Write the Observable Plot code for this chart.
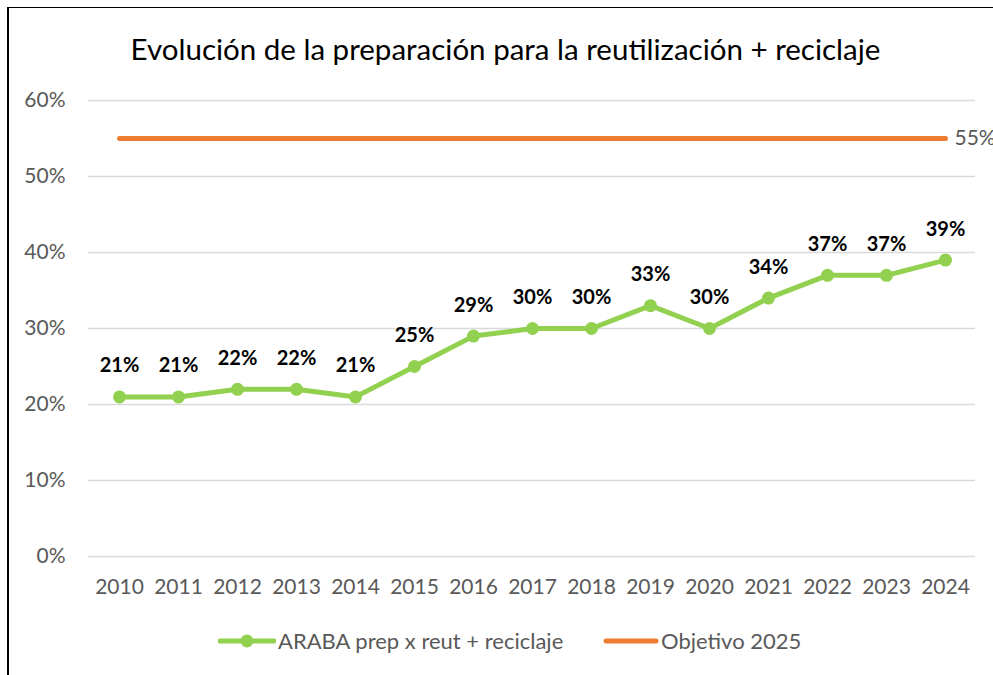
<!DOCTYPE html>
<html>
<head>
<meta charset="utf-8">
<script src="https://cdn.jsdelivr.net/npm/d3@7"></script>
<script src="https://cdn.jsdelivr.net/npm/@observablehq/plot@0.6"></script>
<style>
  html, body { margin: 0; padding: 0; background: #fff; }
  #wrap { position: relative; width: 993px; height: 675px; overflow: hidden; font-family: Lato, "Open Sans", sans-serif; }
  #border { position: absolute; left: 7px; top: 7px; width: 1000px; height: 700px; border-left: 2px solid #000; border-top: 1.5px solid #000; box-sizing: border-box; }
  #title { position: absolute; left: 0; width: 1011px; top: 31px; text-align: center; font-size: 29.5px; line-height: 36px; color: #000; white-space: nowrap; }
  .leg { position: absolute; top: 627px; font-size: 22px; color: #595959; white-space: nowrap; display: flex; align-items: center; }
  #chart { position: absolute; left: 0; top: 0; }
</style>
</head>
<body>
<div id="wrap">
  <div id="border"></div>
  <div id="title">Evolución de la preparación para la reutilización + reciclaje</div>
  <div id="chart"></div>
  <div class="leg" style="left:218px">
    <svg width="58" height="14"><line x1="2" y1="7" x2="56" y2="7" stroke="#92D050" stroke-width="5" stroke-linecap="round"/><circle cx="29" cy="7" r="6.5" fill="#92D050"/></svg>
    <span style="margin-left:2px">ARABA prep x reut + reciclaje</span>
  </div>
  <div class="leg" style="left:603px">
    <svg width="56" height="14"><line x1="3" y1="7" x2="53" y2="7" stroke="#ED7D31" stroke-width="5" stroke-linecap="round"/></svg>
    <span style="margin-left:2px">Objetivo 2025</span>
  </div>
</div>
<script>
const years = ["2010","2011","2012","2013","2014","2015","2016","2017","2018","2019","2020","2021","2022","2023","2024"];
const araba = [0.21,0.21,0.22,0.22,0.21,0.25,0.29,0.30,0.30,0.33,0.30,0.34,0.37,0.37,0.39];
const objetivo = [0.55,0.55,0.55,0.55,0.55,0.55,0.55,0.55,0.55,0.55,0.55,0.55,0.55,0.55,0.55];
const yTicks = [0,0.1,0.2,0.3,0.4,0.5,0.6];

const dA = years.map((y,i) => ({year: y, value: araba[i]}));
const dO = years.map((y,i) => ({year: y, value: objetivo[i]}));
const pct = d3.format(".0%");

const chart = Plot.plot({
  width: 993,
  height: 675,
  marginTop: 100,
  marginBottom: 119,
  marginLeft: 88,
  marginRight: 18,
  style: {fontFamily: "Lato, 'Open Sans', sans-serif", background: "transparent"},
  x: {type: "point", domain: years, padding: 0.5, label: null},
  y: {domain: [0, 0.6], ticks: yTicks, label: null, grid: false},
  marks: [
    Plot.ruleY(yTicks, {stroke: "#D9D9D9", strokeWidth: 1.5}),
    Plot.axisY({ticks: yTicks, tickFormat: pct, tickSize: 0, tickPadding: 23, label: null, fontSize: 21, color: "#595959"}),
    Plot.axisX({tickSize: 0, tickPadding: 23, label: null, fontSize: 21, color: "#595959"}),
    Plot.line(dO, {x: "year", y: "value", stroke: "#ED7D31", strokeWidth: 5, strokeLinecap: "round"}),
    Plot.text(dO.slice(-1), {x: "year", y: "value", text: d => pct(d.value), textAnchor: "start", dx: 9, fontSize: 21, fill: "#595959"}),
    Plot.line(dA, {x: "year", y: "value", stroke: "#92D050", strokeWidth: 5, strokeLinejoin: "round"}),
    Plot.dot(dA, {x: "year", y: "value", r: 6.5, fill: "#92D050"}),
    Plot.text(dA, {x: "year", y: "value", text: d => pct(d.value), dy: -31, fontSize: 20, fontWeight: "bold", fill: "#000"})
  ]
});
document.getElementById("chart").appendChild(chart);
</script>
</body>
</html>
